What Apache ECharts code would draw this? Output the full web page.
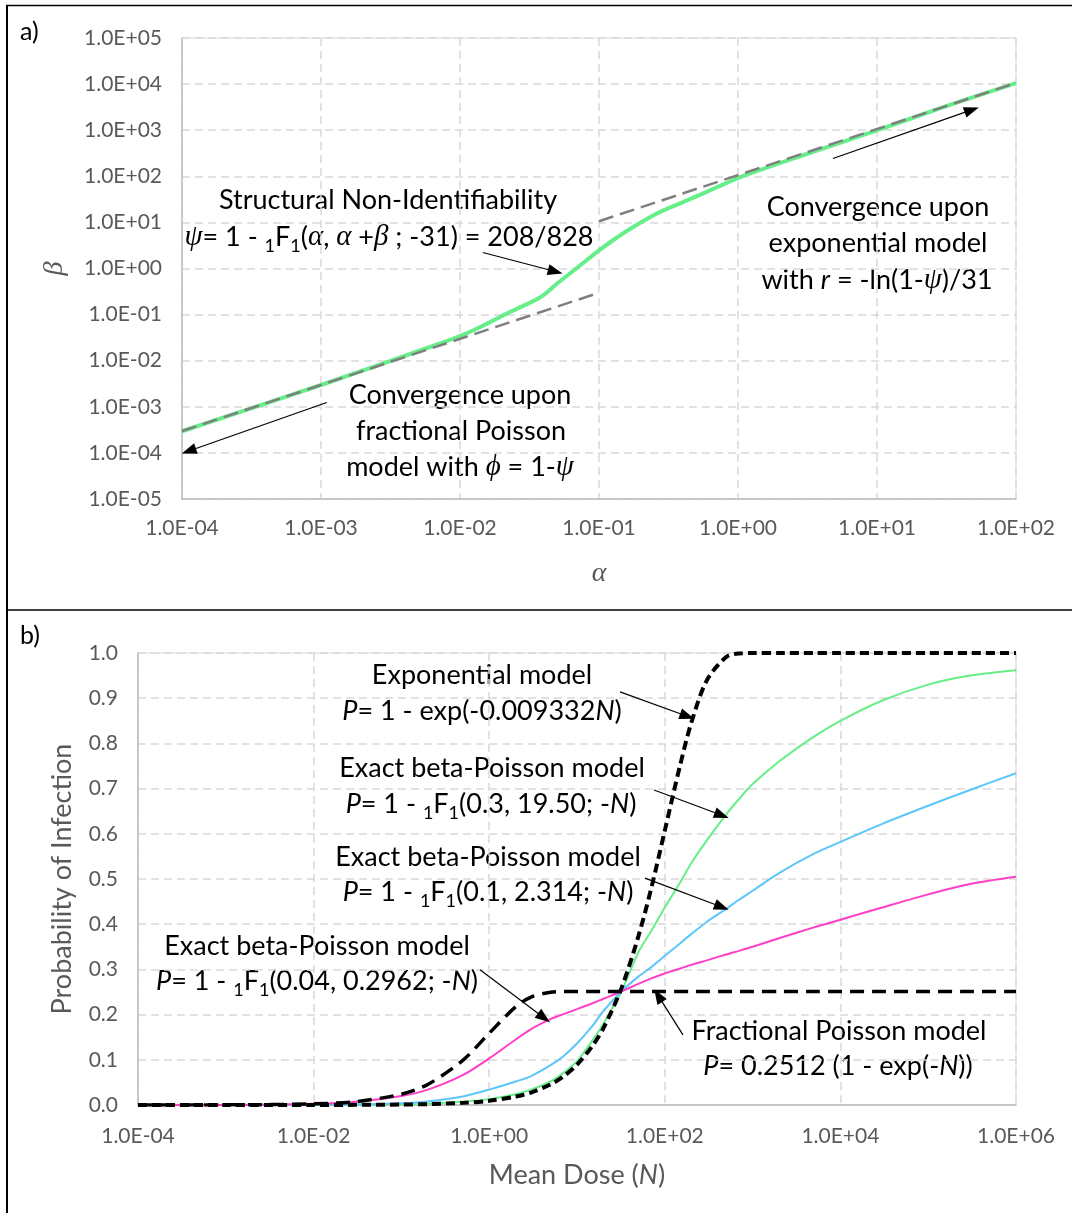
<!DOCTYPE html>
<html>
<head>
<meta charset="utf-8">
<title>Beta-Poisson dose response</title>
<script src="https://cdn.jsdelivr.net/npm/echarts@6/dist/echarts.min.js"></script>
<style>
html, body { margin: 0; padding: 0; background: #fff; }
#main { width: 1076px; height: 1213px; }
</style>
</head>
<body>
<div id="main"></div>
<script>
// ---- panel a: alpha / beta pairs giving psi = 208/828 ----
const alphaFit = [1e-4, 1e-3, 0.00718, 0.0124, 0.0218, 0.0376, 0.05, 0.073, 0.098, 0.126, 0.167, 0.261, 0.43, 0.706, 1.03, 2.79, 11, 30, 100];
const betaFit = [2.95e-4, 2.97e-3, 0.0236, 0.0452, 0.106, 0.235, 0.473, 1.16, 2.35, 4.1, 7.2, 15.6, 30, 58, 95, 272, 1100, 3150, 10500];
// asymptotes
const alphaFPLine = [1e-4, 0.1];
const betaFPLine = [2.98e-4, 0.298];
const alphaExpLine = [0.1, 100];
const betaExpLine = [10.6, 10620];

const alphaTicks = ['1.0E-04', '1.0E-03', '1.0E-02', '1.0E-01', '1.0E+00', '1.0E+01', '1.0E+02'];
const betaTicks = ['1.0E-05', '1.0E-04', '1.0E-03', '1.0E-02', '1.0E-01', '1.0E+00', '1.0E+01', '1.0E+02', '1.0E+03', '1.0E+04', '1.0E+05'];

// ---- panel b: probability of infection vs mean dose ----
const dose = [1e-4, 1e-3, 0.01, 0.03, 0.1, 0.2, 0.5, 1, 2, 3, 5, 7, 10, 15, 20, 32, 50, 70, 100, 150, 200, 300, 500, 700, 1000, 2000, 5000, 1e4, 3e4, 1e5, 3e5, 1e6];
const pExp = [0, 0, 0.0001, 0.0003, 0.0009, 0.0019, 0.0047, 0.0093, 0.0185, 0.0276, 0.0456, 0.0632, 0.089, 0.131, 0.17, 0.258, 0.373, 0.479, 0.607, 0.753, 0.845, 0.939, 0.991, 0.999, 1, 1, 1, 1, 1, 1, 1, 1];
const pFracPoisson = [0.00003, 0.0003, 0.0025, 0.0074, 0.0239, 0.0455, 0.0988, 0.1588, 0.2172, 0.2387, 0.2495, 0.251, 0.2512, 0.2512, 0.2512, 0.2512, 0.2512, 0.2512, 0.2512, 0.2512, 0.2512, 0.2512, 0.2512, 0.2512, 0.2512, 0.2512, 0.2512, 0.2512, 0.2512, 0.2512, 0.2512, 0.2512];
const pBeta03 = [0, 0, 0.0002, 0.0005, 0.0015, 0.003, 0.007, 0.013, 0.024, 0.034, 0.052, 0.071, 0.097, 0.143, 0.18, 0.2512, 0.338, 0.385, 0.437, 0.493, 0.535, 0.585, 0.643, 0.677, 0.71, 0.76, 0.815, 0.85, 0.895, 0.93, 0.95, 0.962];
const pBeta01 = [0, 0, 0.0004, 0.0012, 0.004, 0.008, 0.019, 0.034, 0.052, 0.064, 0.088, 0.108, 0.136, 0.175, 0.208, 0.2512, 0.284, 0.305, 0.33, 0.358, 0.378, 0.405, 0.434, 0.454, 0.474, 0.513, 0.556, 0.582, 0.622, 0.662, 0.697, 0.734];
const pBeta004 = [0, 0.0001, 0.0025, 0.007, 0.02, 0.034, 0.066, 0.103, 0.145, 0.168, 0.19, 0.201, 0.212, 0.225, 0.235, 0.2512, 0.268, 0.28, 0.291, 0.302, 0.31, 0.32, 0.333, 0.341, 0.35, 0.369, 0.393, 0.41, 0.437, 0.466, 0.489, 0.505];

const doseTicks = ['1.0E-04', '1.0E-02', '1.0E+00', '1.0E+02', '1.0E+04', '1.0E+06'];
const probTicks = ['0.0', '0.1', '0.2', '0.3', '0.4', '0.5', '0.6', '0.7', '0.8', '0.9', '1.0'];

// annotation arrows, [from, to] in data coordinates
const arrowsA = [
  [[0.0146, 2.22], [0.0485, 0.86]],
  [[4.82, 243], [48, 2760]],
  [[1.1e-3, 1.24e-3], [1.12e-4, 1.1e-4]]
];
const arrowsB = [
  [[30.9, 0.914], [180, 0.86]],
  [[75.4, 0.697], [445, 0.641]],
  [[59.4, 0.502], [445, 0.438]],
  [[0.785, 0.299], [4.2, 0.193]],
  [[161, 0.155], [84, 0.242]]
];

const FONT = 'Lato';
const SERIF = 'Liberation Serif';
const GREY = '#595959';
const GRIDLINE = { show: true, lineStyle: { color: '#d9d9d9', width: 1.5, type: [8, 5] } };
const AXISLINE = { show: true, onZero: false, lineStyle: { color: '#bfbfbf', width: 1.5 } };

function pairs (xs, ys) {
  return xs.map((x, i) => [x, ys[i]]);
}

function arrows (list) {
  return {
    silent: true,
    animation: false,
    symbol: ['none', 'triangle'],
    symbolSize: [11, 15],
    label: { show: false },
    lineStyle: { color: '#000', width: 1.2, type: 'solid' },
    data: list.map(a => [{ coord: a[0] }, { coord: a[1] }])
  };
}

const RICH = {
  g: { fontFamily: SERIF, fontStyle: 'italic', fontSize: 29 },
  i: { fontFamily: FONT, fontStyle: 'italic', fontSize: 27 },
  s: { fontFamily: FONT, fontSize: 18, padding: [18, 0, 0, 0], lineHeight: 32 }
};

function note (x, y, text) {
  return {
    type: 'text', x: x, y: y, silent: true,
    style: { text: text, fill: '#000', fontFamily: FONT, fontSize: 27, textAlign: 'center', textVerticalAlign: 'middle', rich: RICH }
  };
}

const chart = echarts.init(document.getElementById('main'));
chart.setOption({
  animation: false,
  backgroundColor: '#fff',
  grid: [
    { left: 182, top: 38, width: 834, height: 461, show: true, borderColor: '#d9d9d9', borderWidth: 1 },
    { left: 138, top: 653, width: 878, height: 452, show: true, borderColor: '#d9d9d9', borderWidth: 1 }
  ],
  xAxis: [
    {
      gridIndex: 0, type: 'log', logBase: 10, min: 1e-4, max: 100, interval: 1,
      name: 'α', nameLocation: 'middle', nameGap: 61,
      nameTextStyle: { fontFamily: SERIF, fontStyle: 'italic', fontSize: 28, color: GREY },
      axisLine: AXISLINE, axisTick: { show: false },
      axisLabel: { margin: 19, color: GREY, fontFamily: FONT, fontSize: 21, showMinLabel: true, showMaxLabel: true, formatter: v => alphaTicks[Math.round(Math.log10(v)) + 4] },
      splitLine: GRIDLINE
    },
    {
      gridIndex: 1, type: 'log', logBase: 100, min: 1e-4, max: 1e6, interval: 1,
      name: 'Mean Dose ({i|N})', nameLocation: 'middle', nameGap: 57,
      nameTextStyle: { fontFamily: FONT, fontSize: 27, color: GREY, rich: { i: { fontFamily: FONT, fontStyle: 'italic', fontSize: 27, color: GREY } } },
      axisLine: AXISLINE, axisTick: { show: false },
      axisLabel: { margin: 21, color: GREY, fontFamily: FONT, fontSize: 21, showMinLabel: true, showMaxLabel: true, formatter: v => doseTicks[(Math.round(Math.log10(v)) + 4) / 2] },
      splitLine: GRIDLINE
    }
  ],
  yAxis: [
    {
      gridIndex: 0, type: 'log', logBase: 10, min: 1e-5, max: 1e5, interval: 1,
      name: 'β', nameLocation: 'middle', nameGap: 113,
      nameTextStyle: { fontFamily: SERIF, fontStyle: 'italic', fontSize: 28, color: GREY },
      axisLine: AXISLINE, axisTick: { show: false },
      axisLabel: { margin: 20, color: GREY, fontFamily: FONT, fontSize: 21, showMinLabel: true, showMaxLabel: true, formatter: v => betaTicks[Math.round(Math.log10(v)) + 5] },
      splitLine: GRIDLINE
    },
    {
      gridIndex: 1, type: 'value', min: 0, max: 1, interval: 0.1,
      name: 'Probability of Infection', nameLocation: 'middle', nameGap: 62,
      nameTextStyle: { fontFamily: FONT, fontSize: 27, color: GREY },
      axisLine: AXISLINE, axisTick: { show: false },
      axisLabel: { margin: 20, color: GREY, fontFamily: FONT, fontSize: 21, formatter: v => probTicks[Math.round(v * 10)] },
      splitLine: GRIDLINE
    }
  ],
  series: [
    {
      type: 'line', xAxisIndex: 0, yAxisIndex: 0, data: pairs(alphaFit, betaFit),
      symbol: 'none', smooth: 0.3, lineStyle: { color: '#66ee88', width: 4 }, silent: true,
      markLine: arrows(arrowsA)
    },
    {
      type: 'line', xAxisIndex: 0, yAxisIndex: 0, data: pairs(alphaFPLine, betaFPLine),
      symbol: 'none', lineStyle: { color: '#7f7f7f', width: 2.5, type: [15, 7] }, silent: true
    },
    {
      type: 'line', xAxisIndex: 0, yAxisIndex: 0, data: pairs(alphaExpLine, betaExpLine),
      symbol: 'none', lineStyle: { color: '#7f7f7f', width: 2.5, type: [15, 7] }, silent: true
    },
    {
      type: 'line', xAxisIndex: 1, yAxisIndex: 1, data: pairs(dose, pBeta03),
      symbol: 'none', smooth: 0.3, lineStyle: { color: '#66ee88', width: 2 }, silent: true
    },
    {
      type: 'line', xAxisIndex: 1, yAxisIndex: 1, data: pairs(dose, pBeta01),
      symbol: 'none', smooth: 0.3, lineStyle: { color: '#5cc6fa', width: 2 }, silent: true
    },
    {
      type: 'line', xAxisIndex: 1, yAxisIndex: 1, data: pairs(dose, pBeta004),
      symbol: 'none', smooth: 0.3, lineStyle: { color: '#ff3fc8', width: 2 }, silent: true
    },
    {
      type: 'line', xAxisIndex: 1, yAxisIndex: 1, data: pairs(dose, pFracPoisson),
      symbol: 'none', smooth: 0.3, lineStyle: { color: '#000', width: 3.5, type: [14, 8] }, silent: true
    },
    {
      type: 'line', xAxisIndex: 1, yAxisIndex: 1, data: pairs(dose, pExp),
      symbol: 'none', smooth: 0.3, lineStyle: { color: '#000', width: 4, type: [9, 5] }, silent: true,
      markLine: arrows(arrowsB)
    }
  ],
  graphic: [
    // panel frames
    { type: 'line', silent: true, shape: { x1: 7, y1: 5, x2: 7, y2: 1213 }, style: { stroke: '#000', lineWidth: 2 } },
    { type: 'line', silent: true, shape: { x1: 6, y1: 5.5, x2: 1072, y2: 5.5 }, style: { stroke: '#000', lineWidth: 1.5 } },
    { type: 'line', silent: true, shape: { x1: 6, y1: 610, x2: 1072, y2: 610 }, style: { stroke: '#000', lineWidth: 1.5 } },
    { type: 'text', x: 20, y: 32, silent: true, style: { text: 'a)', fill: '#000', fontFamily: FONT, fontSize: 25, textVerticalAlign: 'middle' } },
    { type: 'text', x: 20, y: 636, silent: true, style: { text: 'b)', fill: '#000', fontFamily: FONT, fontSize: 25, textVerticalAlign: 'middle' } },
    // panel a notes
    note(388, 200, 'Structural Non-Identifiability'),
    note(389, 237, '{g|ψ}= 1 - {s|1}F{s|1}({g|α}, {g|α} +{g|β} ; -31) = 208/828'),
    note(878, 207, 'Convergence upon'),
    note(878, 243, 'exponential model'),
    note(877, 280, 'with {i|r} = -ln(1-{g|ψ})/31'),
    note(460, 395, 'Convergence upon'),
    note(461, 431, 'fractional Poisson'),
    note(460, 467, 'model with {g|ϕ} = 1-{g|ψ}'),
    // panel b notes
    note(482, 675, 'Exponential model'),
    note(482, 711, '{i|P}= 1 - exp(-0.009332{i|N})'),
    note(492, 768, 'Exact beta-Poisson model'),
    note(491, 804, '{i|P}= 1 - {s|1}F{s|1}(0.3, 19.50; -{i|N})'),
    note(488, 857, 'Exact beta-Poisson model'),
    note(488, 892, '{i|P}= 1 - {s|1}F{s|1}(0.1, 2.314; -{i|N})'),
    note(317, 946, 'Exact beta-Poisson model'),
    note(317, 981, '{i|P}= 1 - {s|1}F{s|1}(0.04, 0.2962; -{i|N})'),
    note(839, 1031, 'Fractional Poisson model'),
    note(838, 1066, '{i|P}= 0.2512 (1 - exp(-{i|N}))')
  ]
});
</script>
</body>
</html>
